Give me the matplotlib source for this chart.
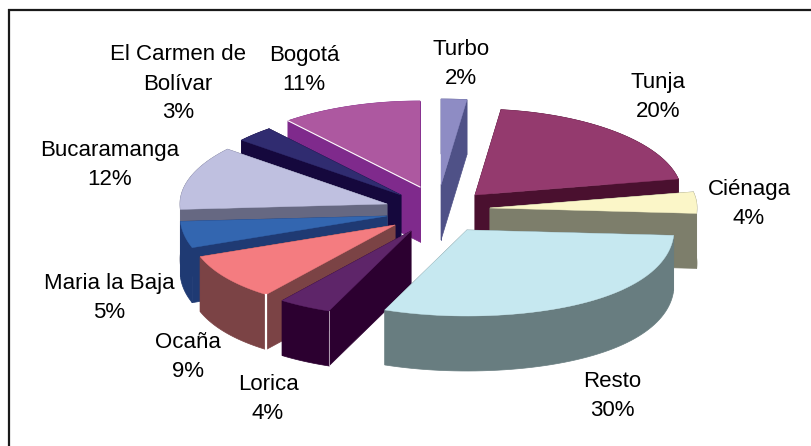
import numpy as np
import matplotlib
matplotlib.use("Agg")
import matplotlib.pyplot as plt
from matplotlib.patches import Polygon

plt.rcParams['font.family'] = ['Liberation Sans', 'DejaVu Sans']

# Data, clockwise from 12 o'clock
labels = ['Turbo', 'Tunja', 'Ciénaga', 'Resto', 'Lorica', 'Ocaña',
          'Maria la Baja', 'Bucaramanga', 'El Carmen de\nBolívar', 'Bogotá']
values = [2, 20, 4, 30, 4, 9, 5, 12, 3, 11]

# Styling
top_colors = ['#8E8CC4', '#943A6E', '#FBF6C8', '#C6E8F0', '#5E2569',
              '#F47C80', '#3366B0', '#BFC0E0', '#302C70', '#AD58A0']
side_colors = ['#4F5187', '#4A102F', '#7D7E6B', '#687D80', '#2C0030',
               '#7B4345', '#1F3A73', '#666882', '#15083D', '#7F2A8C']
# Exploded position of each slice's apex
apex_x = [441, 475, 490, 467, 411, 395, 387, 387, 401, 420]
apex_y = [185, 195, 208, 230, 231, 225, 216, 204, 195, 187]
label_x = [461, 658, 749, 612, 268, 188, 109, 110, 178, 304]
label_y = [64, 97, 204, 396, 399, 357, 298, 165, 84, 70]
draw_order = [0, 9, 8, 7, 6, 5, 4, 1, 2, 3]
RX, RY, DEPTH = 207, 86, 55
FRONT_STRETCH = 0.09

fig = plt.figure(figsize=(8.11, 4.46), dpi=100)
ax = fig.add_axes([0, 0, 1, 1])
ax.set_xlim(0, 811)
ax.set_ylim(446, 0)
ax.axis('off')

# Only the top and left frame lines are in the picture
ax.plot([8, 811], [10, 10], color='#1A1A1A', lw=1.6, solid_capstyle='butt')
ax.plot([9, 9], [9, 446], color='#1A1A1A', lw=1.6, solid_capstyle='butt')

edges = np.cumsum([0] + values) / sum(values) * 2 * np.pi


def rim(i, t):
    c = np.cos(t)
    stretch = 1 + FRONT_STRETCH * np.where(c < 0, c ** 2, 0)
    return apex_x[i] + RX * stretch * np.sin(t), apex_y[i] - RY * c


for i in draw_order:
    t = np.linspace(edges[i], edges[i + 1], 60)
    ax_, ay_ = rim(i, t)
    xs = np.r_[apex_x[i], ax_]
    ys = np.r_[apex_y[i], ay_]
    side = side_colors[i]
    for a, b in ((0, 1), (0, len(xs) - 1)):
        quad = [(xs[a], ys[a]), (xs[b], ys[b]),
                (xs[b], ys[b] + DEPTH), (xs[a], ys[a] + DEPTH)]
        ax.add_patch(Polygon(quad, fc=side, ec=side, lw=0.5))
    wall = np.r_[np.c_[ax_, ay_], np.c_[ax_, ay_ + DEPTH][::-1]]
    ax.add_patch(Polygon(wall, fc=side, ec=side, lw=0.5))
    ax.add_patch(Polygon(np.c_[xs, ys], fc=top_colors[i], ec=top_colors[i], lw=0.3))
    # light edge highlights seen on some slices
    name = labels[i]
    if name == 'Ocaña':
        ax.plot([xs[1], xs[1]], [ys[1], ys[1] + DEPTH], color='white', lw=1.6)
    elif name == 'Lorica':
        ax.plot([xs[1], xs[1]], [ys[1], ys[1] + DEPTH], color='#C8B8C8', lw=0.6)
    elif name == 'Bogotá':
        ax.plot([xs[0], xs[1]], [ys[0], ys[1]], color='white', lw=0.8)

for i, (name, v) in enumerate(zip(labels, values)):
    ax.text(label_x[i], label_y[i], f'{name}\n{v}%', ha='center', va='center',
            fontsize=16, linespacing=1.5, color='black')

fig.savefig('out.png', dpi=100)
